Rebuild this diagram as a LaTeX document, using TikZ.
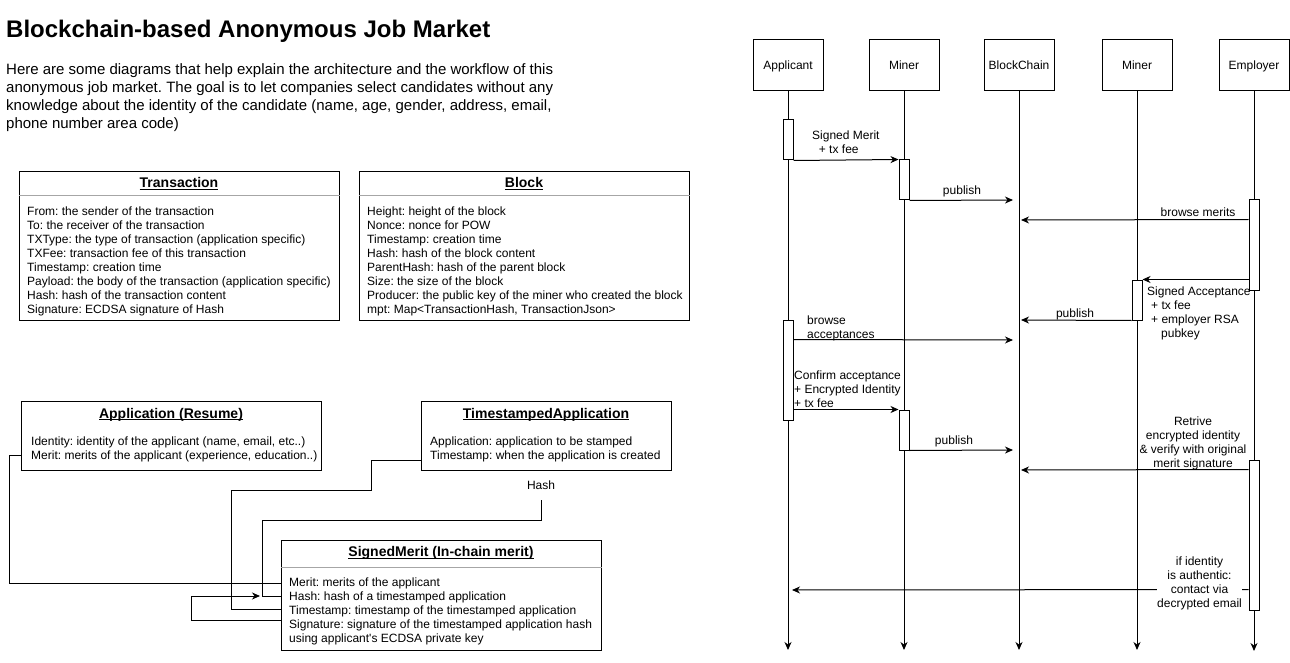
\documentclass[tikz,border=0pt]{standalone}
\usepackage{fontspec}
\setmainfont{Liberation Sans}
\usetikzlibrary{arrows.meta,calc}
\frenchspacing
\newcommand{\Lft}[1]{\vtop{\halign{##\hfil\cr#1\crcr}}}
\newcommand{\Ctr}[1]{\vtop{\halign{\hfil##\hfil\cr#1\crcr}}}
\newsavebox{\hdbox}
\newcommand{\hdul}[1]{\sbox{\hdbox}{#1}\rlap{\vrule height -1.4pt depth 2.4pt width \wd\hdbox}\usebox{\hdbox}}
\tikzset{
  umlbox/.style={draw=black, line width=1pt, inner sep=0pt, anchor=north west},
  divider/.style={draw=black!35, line width=1pt},
  body/.style={font=\fontsize{12pt}{14pt}\selectfont\frenchspacing, inner sep=0pt, anchor=base west},
  head/.style={font=\fontsize{14pt}{16pt}\selectfont\bfseries, inner sep=0pt, anchor=base},
  conn/.style={line width=1pt, draw=black},
  tipA/.style={-{Stealth[length=8pt,width=7pt,inset=2.5pt]}},
  lbox/.style={draw=black, line width=1pt, minimum width=70pt, minimum height=51pt, inner sep=0pt, text height=8.6pt, text depth=0pt, font=\fontsize{12pt}{14pt}\selectfont},
  life/.style={line width=1pt, tipA},
  act/.style={draw=black, fill=white, line width=1pt, minimum width=10pt, inner sep=0pt},
  msg/.style={line width=1pt, tipA},
  lbl/.style={font=\fontsize{12pt}{14pt}\selectfont\frenchspacing, inner sep=0pt},
}
\begin{document}
\begin{tikzpicture}[x=1pt,y=-1pt]
\fill[white] (0,0) rectangle (1290,663);
\useasboundingbox (0,0) rectangle (1290,663);

% ---------- title and intro ----------
\node[anchor=base west, inner sep=0pt, font=\fontsize{24pt}{28pt}\selectfont\bfseries] (title) at (6,38) {Blockchain-based Anonymous Job Market};
\node[anchor=base west, inner sep=0pt, font=\fontsize{15pt}{18pt}\selectfont\frenchspacing] (intro) at (6,75) {\Lft{Here are some diagrams that help explain the architecture and the workflow of this\cr
anonymous job market. The goal is to let companies select candidates without any\cr
knowledge about the identity of the candidate (name, age, gender, address, email,\cr
phone number area code)}};

% ---------- Transaction ----------
\node[umlbox, minimum width=320pt, minimum height=149pt] (tx) at (19,171) {};
\draw[divider] ($(tx.north west)+(0,25)$) -- ($(tx.north east)+(0,25)$);
\node[head] (txh) at (179,188) {\hdul{Transaction}};
\node[body] (txb) at (27,215.5) {\Lft{From: the sender of the transaction\cr
To: the receiver of the transaction\cr
TXType: the type of transaction (application specific)\cr
TXFee: transaction fee of this transaction\cr
Timestamp: creation time\cr
Payload: the body of the transaction (application specific)\cr
Hash: hash of the transaction content\cr
Signature: ECDSA signature of Hash}};

% ---------- Block ----------
\node[umlbox, minimum width=330pt, minimum height=149pt] (blk) at (359,171) {};
\draw[divider] ($(blk.north west)+(0,25)$) -- ($(blk.north east)+(0,25)$);
\node[head] (blkh) at (524,188) {\hdul{Block}};
\node[body] (blkb) at (367,215.5) {\Lft{Height: height of the block\cr
Nonce: nonce for POW\cr
Timestamp: creation time\cr
Hash: hash of the block content\cr
ParentHash: hash of the parent block\cr
Size: the size of the block\cr
Producer: the public key of the miner who created the block\cr
mpt: Map<TransactionHash, TransactionJson>}};

% ---------- Application ----------
\node[umlbox, minimum width=300pt, minimum height=69pt] (app) at (21,401) {};
\node[head] (apph) at (171,418) {\hdul{Application (Resume)}};
\node[body] (appb) at (31,445.5) {\Lft{Identity: identity of the applicant (name, email, etc..)\cr
Merit: merits of the applicant (experience, education..)}};

% ---------- TimestampedApplication ----------
\node[umlbox, minimum width=250pt, minimum height=69pt] (ts) at (421,401) {};
\node[head] (tsh) at (546,418) {\hdul{TimestampedApplication}};
\node[body] (tsb) at (430,445.5) {\Lft{Application: application to be stamped\cr
Timestamp: when the application is created}};
\node[lbl, anchor=base] (hash) at (541,489.3) {Hash};

% ---------- SignedMerit ----------
\node[umlbox, minimum width=320pt, minimum height=110pt] (sm) at (281,540) {};
\draw[divider] ($(sm.north west)+(0,27)$) -- ($(sm.north east)+(0,27)$);
\node[head] (smh) at (441,556.5) {\hdul{SignedMerit (In-chain merit)}};
\node[body] (smb) at (289,586) {\Lft{Merit: merits of the applicant\cr
Hash: hash of a timestamped application\cr
Timestamp: timestamp of the timestamped application\cr
Signature: signature of the timestamped application hash\cr
using applicant\textquotesingle s ECDSA private key}};

% ---------- class connectors ----------
\coordinate (hashOut) at (541,500);
\coordinate (sigTip) at (260,596);
\draw[conn] ($(app.north west)+(0,54)$) -- ++(-12,0) |- ($(sm.north west)+(0,43)$);
\draw[conn] ($(ts.north west)+(0,59)$) -- ++(-50,0) -- ++(0,30) -- ++(-140,0) |- ($(sm.north west)+(0,69)$);
\draw[conn] (hashOut) |- ++(-279,20) |- ($(sm.north west)+(0,56)$);
\draw[conn, tipA] ($(sm.north west)+(0,80)$) -- ++(-90,0) |- (sigTip);

% ---------- sequence diagram ----------
\node[lbox] (apl) at (788,65.5) {Applicant};
\node[lbox] (mn1) at (904,65.5) {Miner};
\node[lbox] (bch) at (1019,65.5) {BlockChain};
\node[lbox] (mn2) at (1137,65.5) {Miner};
\node[lbox] (emp) at (1254,65.5) {Employer};

\coordinate (aplEnd) at (788,650);
\coordinate (mn1End) at (904,650);
\coordinate (bchEnd) at (1019,650);
\coordinate (mn2End) at (1137,650);
\coordinate (empEnd) at (1254,651);
\draw[life] (apl.south) -- (aplEnd);
\draw[life] (mn1.south) -- (mn1End);
\draw[life] (bch.south) -- (bchEnd);
\draw[life] (mn2.south) -- (mn2End);
\draw[life] (emp.south) -- (empEnd);

\node[act, minimum height=40pt] (a1) at (788,140) {};
\node[act, minimum height=40pt] (m1) at (904,180) {};
\node[act, minimum height=90pt] (e1) at (1254,245) {};
\node[act, minimum height=40pt] (n1) at (1137,300) {};
\node[act, minimum height=100pt] (a2) at (788,370) {};
\node[act, minimum height=40pt] (m2) at (904,430) {};
\node[act, minimum height=150pt] (e2) at (1254,535) {};

\coordinate (bc200) at (1013,200);
\coordinate (bc220) at (1021,220);
\coordinate (bc320) at (1021,320);
\coordinate (bc340) at (1013,340);
\coordinate (bc450) at (1013,450);
\coordinate (bc470) at (1021,470);
\coordinate (ap590) at (792,590);

\draw[msg] (a1.south east) -- (m1.north west);
\draw[msg] (m1.south east) -- (bc200);
\draw[msg] ($(e1.north west)+(0,20)$) -- (bc220);
\draw[msg] ($(e1.north west)+(0,80)$) -- (n1.north east);
\draw[msg] (n1.south west) -- (bc320);
\draw[msg] ($(a2.north east)+(0,20)$) -- (bc340);
\draw[msg] ($(a2.north east)+(0,90)$) -- (m2.north west);
\draw[msg] (m2.south east) -- (bc450);
\draw[msg] ($(e2.north west)+(0,10)$) -- (bc470);
\draw[msg] ($(e2.north west)+(0,130)$) -- (ap590);

\node[lbl, anchor=base west] (l1) at (812,140) {\Lft{Signed Merit\cr\kern6.7pt+ tx fee}};
\node[lbl, anchor=base] (l2) at (962,195) {publish};
\node[lbl, anchor=base] (l3) at (1198,216) {browse merits};
\node[lbl, anchor=base west] (l4) at (1147,295) {\Lft{Signed Acceptance\cr\kern4pt+ tx fee\cr\kern4pt+ employer RSA\cr\kern14pt pubkey}};
\node[lbl, anchor=base] (l5) at (1075,317) {publish};
\node[lbl, anchor=base west] (l6) at (807,324) {\Lft{browse\cr acceptances}};
\node[lbl, anchor=base west] (l7) at (794,379) {\Lft{Confirm acceptance\cr+ Encrypted Identity\cr+ tx fee}};
\node[lbl, anchor=base] (l8) at (954,444) {publish};
\node[lbl, anchor=base] (l9) at (1193,425) {\Ctr{Retrive\cr encrypted identity\cr\& verify with original\cr merit signature}};
\node[lbl, anchor=base, fill=white] (l10) at (1199.5,565) {\Ctr{if identity\cr is authentic:\cr contact via\cr decrypted email}};
\end{tikzpicture}
\end{document}
